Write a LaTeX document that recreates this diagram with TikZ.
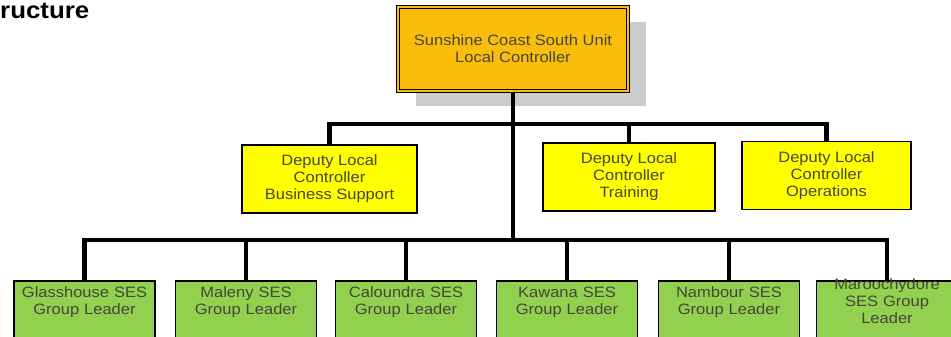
\documentclass[tikz,border=0pt]{standalone}
\usepackage{fontspec}
\setmainfont{Liberation Sans}[FakeStretch=1.1]
\usetikzlibrary{shadows}
\definecolor{unitorange}{RGB}{250,190,10}
\definecolor{deputyyellow}{RGB}{255,255,0}
\definecolor{groupgreen}{RGB}{146,208,80}
\definecolor{boxtext}{RGB}{70,70,56}

\begin{document}
\begin{tikzpicture}[x=1pt,y=-1pt,
  every node/.style={font=\fontsize{15}{17}\selectfont,text=boxtext,align=center},
  unit/.style={draw=black,line width=1.2pt,double=unitorange,double distance=2pt,fill=unitorange,
    minimum width=230pt,minimum height=84pt,
    drop shadow={shadow xshift=18pt,shadow yshift=-15pt,fill=black!20,opacity=1}},
  deputy/.style={draw=black,line width=1.6pt,fill=deputyyellow,minimum height=68pt},
  group/.style={draw=black,line width=1.6pt,fill=groupgreen,text width=134pt,anchor=north,
    inner ysep=6pt,text depth=50pt},
  link/.style={line width=4.2pt}]
\useasboundingbox (0,0) rectangle (951,337);

\node[anchor=base west,inner sep=0,text=black,font=\fontsize{23.5}{26}\selectfont\bfseries] (title) at (0,19) {ructure};

\node[unit]   (unit) at (513,49)    {Sunshine Coast South Unit\\Local Controller};
\node[deputy,minimum width=175pt] (dbs) at (329.5,179) {Deputy Local\\Controller\\Business Support};
\node[deputy,minimum width=172pt] (dtr) at (629,177)   {Deputy Local\\Controller\\Training};
\node[deputy,minimum width=169pt] (dop) at (826.5,175.5) {Deputy Local\\Controller\\Operations};

\node[group] (glass) at (84.5,280) {Glasshouse SES\\Group Leader};
\node[group] (maleny) at (246,280) {Maleny SES\\Group Leader};
\node[group] (calo) at (406,280)   {Caloundra SES\\Group Leader};
\node[group] (kawana) at (567,280) {Kawana SES\\Group Leader};
\node[group] (nambour) at (729,280) {Nambour SES\\Group Leader};
\node[group,inner ysep=4pt,text height=5pt] (maroo) at (887,280) {Maroochydore\\SES Group\\Leader};

\coordinate (upper) at (513,124);
\coordinate (lower) at (513,240);
\draw[link] (unit.south) -- (lower);
\draw[link] (upper) -| (dbs.north)
            (upper) -| (dtr.north)
            (upper) -| (dop.north);
\draw[link] (lower) -| (glass.north)
            (lower) -| (maleny.north)
            (lower) -| (calo.north)
            (lower) -| (kawana.north)
            (lower) -| (nambour.north)
            (lower) -| (maroo.north);
\end{tikzpicture}
\end{document}
